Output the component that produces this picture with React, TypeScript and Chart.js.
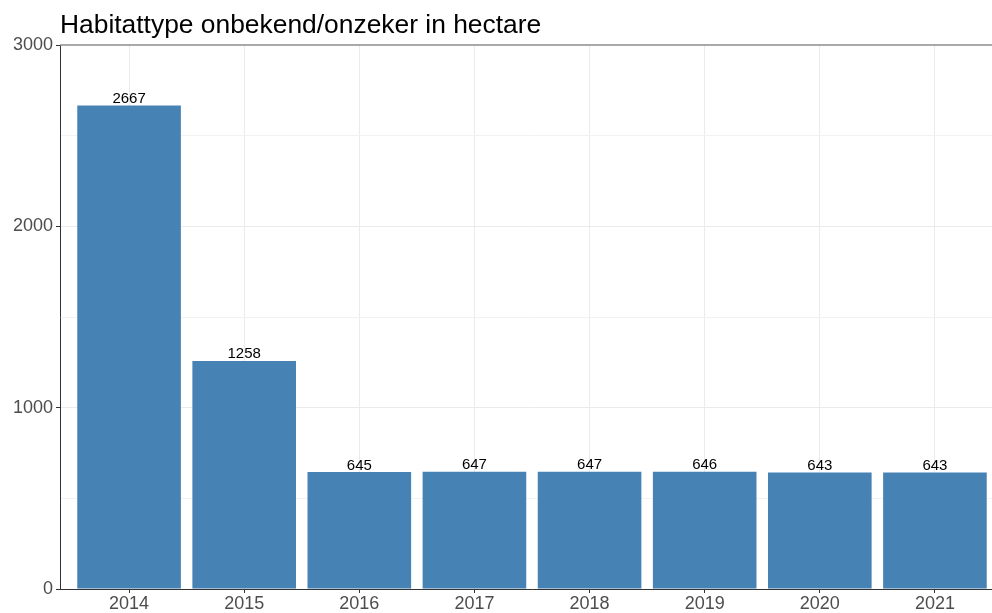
import React, { useEffect, useRef } from "react";
import { Chart, registerables } from "chart.js";

Chart.register(...registerables);

const title = "Habitattype onbekend/onzeker in hectare";
const years = [2014, 2015, 2016, 2017, 2018, 2019, 2020, 2021];
const values = [2667, 1258, 645, 647, 647, 646, 643, 643];
const yTicks = [0, 500, 1000, 1500, 2000, 2500, 3000];

const FONT = "'Liberation Sans', Arial, sans-serif";

const overlay = {
  id: "overlay",
  afterDatasetsDraw(chart: any) {
    const ctx = chart.ctx;
    const meta = chart.getDatasetMeta(0);
    ctx.save();
    ctx.font = `15px ${FONT}`;
    ctx.fillStyle = "#000";
    ctx.textAlign = "center";
    ctx.textBaseline = "alphabetic";
    meta.data.forEach((bar: any, i: number) => {
      ctx.fillText(String(values[i]), bar.x, bar.y - 2.5);
    });
    ctx.restore();
  },
  afterDraw(chart: any) {
    const ctx = chart.ctx;
    const a = chart.chartArea;
    ctx.save();
    ctx.strokeStyle = "#8c8c8c";
    ctx.lineWidth = 1.6;
    ctx.beginPath();
    ctx.moveTo(a.left, a.top);
    ctx.lineTo(chart.width, a.top);
    ctx.stroke();
    ctx.font = `26.4px ${FONT}`;
    ctx.fillStyle = "#000";
    ctx.textAlign = "left";
    ctx.textBaseline = "alphabetic";
    ctx.fillText(title, a.left, 33);
    ctx.restore();
  },
};

export default function App() {
  const ref = useRef<HTMLCanvasElement | null>(null);
  useEffect(() => {
    if (!ref.current) return;
    const chart = new Chart(ref.current, {
      type: "bar",
      data: {
        datasets: [
          {
            data: years.map((y, i) => ({ x: y, y: values[i] })),
            backgroundColor: "#4682B4",
            barPercentage: 0.9,
            categoryPercentage: 1.0,
          },
        ],
      },
      options: {
        animation: false,
        responsive: false,
        layout: { padding: { top: 45, left: 0, right: 0, bottom: 0 } },
        plugins: {
          legend: { display: false },
          title: { display: false },
          tooltip: { enabled: false },
        },
        scales: {
          x: {
            type: "linear",
            offset: false,
            min: 2013.4,
            max: 2021.6,
            afterBuildTicks: (s: any) => {
              s.ticks = years.map((v) => ({ value: v }));
            },
            afterFit: (s: any) => {
              s.height = 24;
            },
            ticks: {
              callback: (v: any) => String(v),
              color: "#4d4d4d",
              font: { family: FONT, size: 18 },
              padding: 0,
              maxRotation: 0,
              autoSkip: false,
            },
            grid: {
              offset: false,
              color: "#ebebeb",
              lineWidth: 1,
              drawTicks: true,
              tickLength: 4,
              tickColor: "#333",
            },
            border: { display: true, color: "#333", width: 1 },
          },
          y: {
            min: 0,
            max: 3000,
            afterBuildTicks: (s: any) => {
              s.ticks = yTicks.map((v) => ({ value: v }));
            },
            afterFit: (s: any) => {
              s.width = 60;
            },
            ticks: {
              callback: (v: any) => (v % 1000 === 0 ? String(v) : ""),
              color: "#4d4d4d",
              font: { family: FONT, size: 18 },
              padding: 3,
            },
            grid: {
              color: (c: any) =>
                c.tick && c.tick.value === 3000
                  ? "rgba(0,0,0,0)"
                  : c.tick && c.tick.value % 1000 === 0
                  ? "#ebebeb"
                  : "#f2f2f2",
              lineWidth: 1,
              drawTicks: true,
              tickLength: 4,
              tickColor: (c: any) =>
                c.tick && c.tick.value % 1000 === 0 ? "#333" : "rgba(0,0,0,0)",
            },
            border: { display: true, color: "#333", width: 1 },
          },
        },
      },
      plugins: [overlay],
    } as any);
    return () => chart.destroy();
  }, []);
  return (
    <div
      style={{
        position: "fixed",
        left: 0,
        top: 0,
        width: 992,
        height: 613,
        overflow: "hidden",
        background: "#fff",
      }}
    >
      <canvas ref={ref} width={1004} height={613} style={{ display: "block" }} />
    </div>
  );
}
